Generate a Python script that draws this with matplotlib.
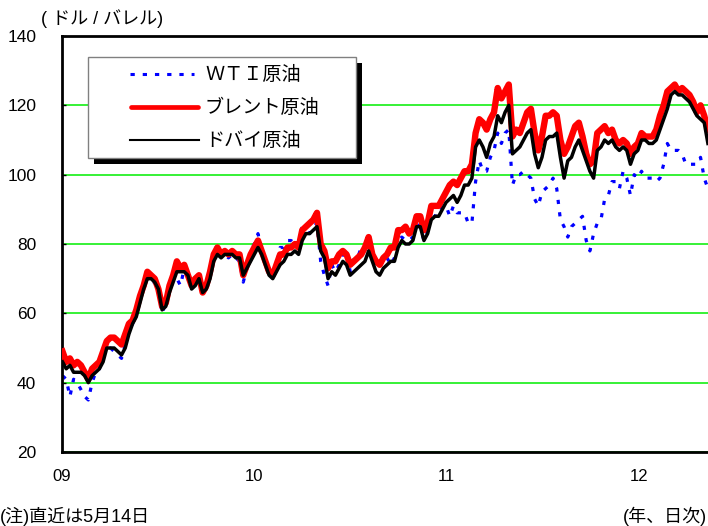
import matplotlib
matplotlib.use('Agg')
import matplotlib.pyplot as plt
from matplotlib.lines import Line2D
from matplotlib.patches import Rectangle
import pandas as pd

plt.rcParams['font.family'] = ['Liberation Sans', 'Noto Sans CJK JP']

# ---- data (weekly readings, Fridays from 2009-01-02) ----
dates = pd.date_range('2009-01-02', periods=176, freq='7D')

brent_2009 = [49, 46, 47, 45, 46, 45, 43, 41, 44, 45, 46, 49, 52, 53, 53, 52, 51,
              54, 57, 58, 61, 65, 68, 72, 71, 70, 67, 62, 63, 68, 71, 75, 73, 74, 71,
              68, 70, 71, 66, 68, 72, 77, 79, 77, 78, 77, 78, 77, 77, 71, 74, 77]
brent_2010 = [79, 81, 78, 75, 72, 71, 74, 77, 77, 79, 79, 80, 79, 84, 85, 86, 87, 89,
              80, 78, 73, 75, 75, 77, 78, 77, 74, 75, 76, 77, 79, 82, 77, 75, 74,
              76, 77, 79, 79, 84, 84, 85, 83, 84, 88, 88, 84, 86, 91, 91, 91, 93, 95]
brent_2011 = [97, 98, 97, 99, 101, 101, 103, 112, 116, 115, 113, 116, 118, 125, 122, 124, 126,
              111, 113, 112, 115, 118, 119, 112, 107, 111, 117, 117, 118, 117, 110, 106, 108, 111,
              114, 115, 111, 106, 103, 104, 112, 113, 114, 112, 113, 110, 109, 110, 109, 106, 108, 109]
brent_2012 = [112, 111, 111, 111, 113, 117, 120, 124, 125, 126, 124, 125, 124,
              123, 121, 118, 120, 117, 113]

dubai_2009 = [46, 44, 45, 43, 43, 43, 42, 40, 42, 43, 44, 46, 50, 50, 50, 49, 48,
              50, 54, 57, 59, 63, 67, 70, 70, 69, 67, 61, 62, 66, 69, 72, 72, 72, 71,
              67, 68, 70, 66, 67, 70, 75, 77, 76, 77, 77, 77, 76, 76, 71, 73, 75]
dubai_2010 = [77, 79, 77, 74, 71, 70, 72, 74, 75, 77, 77, 78, 77, 81, 83, 83, 84, 85,
              78, 76, 70, 72, 71, 73, 75, 74, 71, 72, 73, 74, 75, 78, 75, 72, 71,
              73, 74, 75, 75, 79, 81, 80, 80, 81, 85, 85, 81, 83, 87, 88, 88, 90, 92]
dubai_2011 = [93, 94, 92, 94, 97, 97, 99, 108, 110, 108, 105, 109, 111, 117, 115, 118, 120,
              106, 107, 108, 110, 112, 113, 106, 102, 105, 110, 111, 111, 112, 105, 99, 104, 105,
              108, 110, 107, 104, 101, 99, 107, 108, 110, 109, 110, 108, 107, 108, 107, 103, 106, 107]
dubai_2012 = [110, 110, 109, 109, 110, 113, 116, 119, 123, 124, 123, 123, 122,
              121, 119, 117, 116, 115, 109]

wti_2009 = [42, 41, 36, 41, 40, 38, 36, 35, 40, 43, 44, 48, 49, 50, 49, 48, 47,
            51, 55, 57, 60, 65, 68, 71, 69, 69, 66, 60, 63, 67, 69, 70, 68, 73, 72,
            68, 69, 72, 66, 69, 71, 77, 80, 77, 77, 76, 77, 76, 75, 69, 73, 78]
wti_2010 = [80, 83, 78, 74, 73, 71, 74, 79, 79, 81, 81, 80, 80, 85, 84, 83, 85, 86,
            75, 71, 68, 74, 72, 74, 77, 78, 72, 76, 76, 79, 79, 81, 76, 74, 75,
            74, 76, 74, 76, 81, 82, 81, 81, 82, 87, 85, 81, 84, 89, 88, 88, 91, 91]
wti_2011 = [88, 91, 89, 89, 89, 86, 86, 98, 104, 101, 101, 105, 107, 112, 109, 112, 113,
            97, 100, 100, 101, 100, 99, 93, 91, 95, 96, 97, 99, 96, 87, 85, 82, 85,
            86, 87, 88, 81, 78, 83, 86, 87, 93, 94, 98, 98, 96, 101, 99, 94, 100, 99]
wti_2012 = [101, 99, 99, 99, 98, 99, 103, 109, 107, 107, 107, 106, 103,
            103, 103, 103, 105, 99, 96]

wti = wti_2009 + wti_2010 + wti_2011 + wti_2012
brent = brent_2009 + brent_2010 + brent_2011 + brent_2012
dubai = dubai_2009 + dubai_2010 + dubai_2011 + dubai_2012

labels = ['ＷＴＩ原油', 'ブレント原油', 'ドバイ原油']
year_ticks = ['2009-01-01', '2010-01-01', '2011-01-01', '2012-01-01']
year_labels = ['09', '10', '11', '12']
y_ticks = [20, 40, 60, 80, 100, 120, 140]

# ---- figure ----
W, H = 708, 526
fig = plt.figure(figsize=(W / 100, H / 100), dpi=100)
ax = fig.add_axes([62 / W, 74 / H, 647.5 / W, 416 / H])

ax.plot(dates, wti, color='#0000ff', lw=2.3, linestyle=(0, (1.3, 2.6)),
        dash_capstyle='butt', zorder=2)
ax.plot(dates, brent, color='#ff0000', lw=4.6, solid_joinstyle='round', zorder=3)
ax.plot(dates, dubai, color='#000000', lw=2.5, solid_joinstyle='round', zorder=4)

ax.set_xlim(pd.Timestamp('2009-01-01'), pd.Timestamp('2012-05-14'))
ax.set_ylim(20, 140)
ax.set_yticks(y_ticks)
ax.set_xticks(pd.to_datetime(year_ticks))
ax.set_xticklabels(year_labels)
ax.tick_params(axis='x', length=0, pad=12, labelsize=12)
ax.tick_params(axis='y', direction='in', length=3, width=1, pad=18.5, labelsize=12.5)

ax.yaxis.grid(True, color='#00ee00', lw=1.1)
ax.set_axisbelow(True)
for s in ['left', 'bottom', 'top']:
    ax.spines[s].set_linewidth(2)
    ax.spines[s].set_color('black')
ax.spines['right'].set_visible(False)

# ---- legend (manual, in pixel coords) ----
def fx(x):
    return x / W

def fy(y):
    return 1 - y / H

fig.patches.append(Rectangle((fx(94), fy(164)), (356 - 88) / W, (158 - 57) / H,
                             transform=fig.transFigure, facecolor='black',
                             edgecolor='none', zorder=10))
fig.patches.append(Rectangle((fx(88), fy(158)), (356 - 88) / W, (158 - 57) / H,
                             transform=fig.transFigure, facecolor='white',
                             edgecolor='#808080', lw=1, zorder=11))
fig.lines.append(Line2D([fx(130), fx(194)], [fy(74), fy(74)], transform=fig.transFigure,
                        color='#0000ff', lw=2.2, linestyle=(0, (1.4, 2.6)),
                        dash_capstyle='butt', zorder=12))
fig.lines.append(Line2D([fx(131), fx(198)], [fy(107), fy(107)], transform=fig.transFigure,
                        color='#ff0000', lw=3.4, solid_capstyle='round', zorder=12))
fig.lines.append(Line2D([fx(130), fx(199)], [fy(140), fy(140)], transform=fig.transFigure,
                        color='black', lw=1.5, zorder=12))
for lab, yy in zip(labels, [75, 108, 141]):
    fig.text(fx(205), fy(yy), lab, fontsize=13.8, va='center', ha='left', zorder=13)

# ---- annotations ----
fig.text(fx(41), fy(19), '( ドル / バレル)', fontsize=13, va='center', ha='left')
fig.text(fx(0), fy(516), '(注)直近は5月14日', fontsize=13, va='center', ha='left')
fig.text(fx(707), fy(516), '(年、日次)', fontsize=13, va='center', ha='right')

fig.savefig('out.png', dpi=100)
